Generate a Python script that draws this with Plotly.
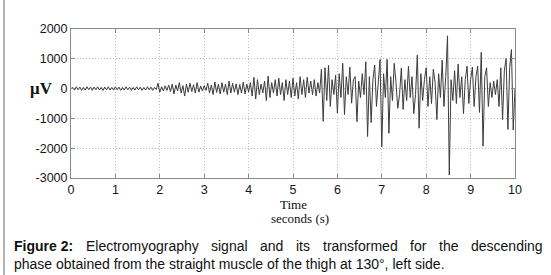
import numpy as np
import plotly.graph_objects as go

# ---- data ----
dt_s = 0.04
emg_uv = [
    0, 40, -50, 60, -40, 50, -60, 40, -50, 60,
    -40, 50, -60, 50, -40, 60, -50, 40, -60, 50,
    -40, 60, -50, 40, -50, 60, -40, 50, -60, 40,
    -50, 60, -40, 50, -60, 40, -50, 60, -40, 50,
    -60, 40, -50, 60, -40, 50, -60, 40, -30,
    180, -120, 60, -80, 90, -60, 120, -100, 150, -180,
    120, -80, 200, -150, 100, -250, 150, -120, 180, -100,
    130, -150, 200, -120, 90, -80, 100, -60, 180, -150,
    120, -200, 220, -130, 150, -180, 200, -120, 150, -200,
    250, -150, 180, -120, 160, -200, 140, -150, 220, -180,
    150, -120, 200, -250, 380, -350, 300, -200, 150, -150,
    250, -400, 420, -300, 200, -150, 300, -250, 350, -200,
    200, -400, 300, -200, 250, -300, 350, -250, 200, -350,
    400, -200, 300, -300, 380, -150, 250, -200, 300, -250,
    200, -150,
    650, -1100, 700, -400, 780, -600, 300, -200, 450, -820,
    500, -300, 850, -870, 400, -200, 720, -490, 300, 400,
    -1110, 250, -300, 500, -200, 900, -1610, 400, -1140, 300,
    790, -600, 200, 980, -1950, 500, -300, 980, -1500, 400,
    -400, 850, 200, -660, -200, 690, -700, 300, -400, 750,
    -300, 400, -840, -200, 1130, -1330, 500, -400, 300, 700,
    -600, 400, -500, 650, 200, -1040, 500, -300, 950, -600,
    400, 1770, -2900, 300, -400, 600, -500, 820, -300, 400,
    -840, 300, 750, -500, 300, 720, -600, 400, 750, -800,
    1220, -1930, 400, 700, -600, 200, -300, 250, -200, 300,
    -600, 700, -1040, 600, 1010, -1370, 700, 1310, -1390, 0,
]
time_s = np.arange(len(emg_uv)) * dt_s

x_ticks = [0, 1, 2, 3, 4, 5, 6, 7, 8, 9, 10]
y_ticks = [-3000, -2000, -1000, 0, 1000, 2000]

caption_line1 = ["Figure 2:", "Electromyography", "signal", "and", "its",
                 "transformed", "for", "the", "descending"]
caption_line2 = "phase obtained from the straight muscle of the thigh at 130°, left side."

# ---- layout geometry (pixels) ----
W, H = 551, 275
L, R, T, B = 71, 515, 29, 178


def px(x):
    return (x - L) / (R - L)


def py(y):
    return (B - y) / (B - T)


fig = go.Figure()
fig.add_trace(go.Scatter(x=time_s, y=emg_uv, mode="lines",
                         line=dict(color="#3c3c3c", width=1),
                         hoverinfo="skip", showlegend=False))

axis_common = dict(showline=True, linecolor="#8a8a8a", linewidth=1, mirror="ticks",
                   ticks="inside", ticklen=4, tickcolor="#8a8a8a",
                   showgrid=True, gridcolor="#bdbdbd", griddash="1px,2px", gridwidth=1,
                   zeroline=False,
                   tickfont=dict(family="Arial, Liberation Sans", size=12.5, color="#151520"))

fig.update_xaxes(range=[0, 10], tickvals=x_ticks, ticktext=[str(v) for v in x_ticks],
                 **axis_common)
fig.update_yaxes(range=[-3000, 2000], tickvals=y_ticks, ticktext=[str(v) for v in y_ticks],
                 **axis_common)

annotations = []
# axis labels
annotations.append(dict(x=px(41), y=py(88), xref="paper", yref="paper", text="<b>μV</b>",
                        showarrow=False, xanchor="center", yanchor="middle",
                        font=dict(family="Times New Roman, Liberation Serif", size=17, color="#111")))
annotations.append(dict(x=px(293), y=py(204), xref="paper", yref="paper", text="Time",
                        showarrow=False, xanchor="center", yanchor="middle",
                        font=dict(family="Times New Roman, Liberation Serif", size=13, color="#111")))
annotations.append(dict(x=px(300), y=py(218), xref="paper", yref="paper", text="seconds (s)",
                        showarrow=False, xanchor="center", yanchor="middle",
                        font=dict(family="Times New Roman, Liberation Serif", size=13, color="#111")))

# caption, first line justified word by word
word_x = [12, 84, 209, 258, 294, 321, 408, 437, 469]
for word, wx in zip(caption_line1, word_x):
    txt = "<b>" + word + "</b>" if word.startswith("Figure") else word
    annotations.append(dict(x=px(wx), y=py(246), xref="paper", yref="paper", text=txt,
                            showarrow=False, xanchor="left", yanchor="middle",
                            font=dict(family="Arial, Liberation Sans", size=14, color="#111")))
annotations.append(dict(x=px(12), y=py(264), xref="paper", yref="paper", text=caption_line2,
                        showarrow=False, xanchor="left", yanchor="middle",
                        font=dict(family="Arial, Liberation Sans", size=14, color="#111")))

shapes = [dict(type="line", xref="paper", yref="paper",
               x0=px(4), x1=px(4), y0=py(0), y1=py(H),
               line=dict(color="#9a9a9a", width=1.5))]

fig.update_layout(width=W, height=H,
                  margin=dict(l=L, r=W - R, t=T, b=H - B, pad=0),
                  paper_bgcolor="white", plot_bgcolor="white",
                  annotations=annotations, shapes=shapes, showlegend=False)

fig.write_html("out.html", config={"displayModeBar": False},
               post_script="document.body.style.margin='0';document.body.style.overflow='hidden';")
